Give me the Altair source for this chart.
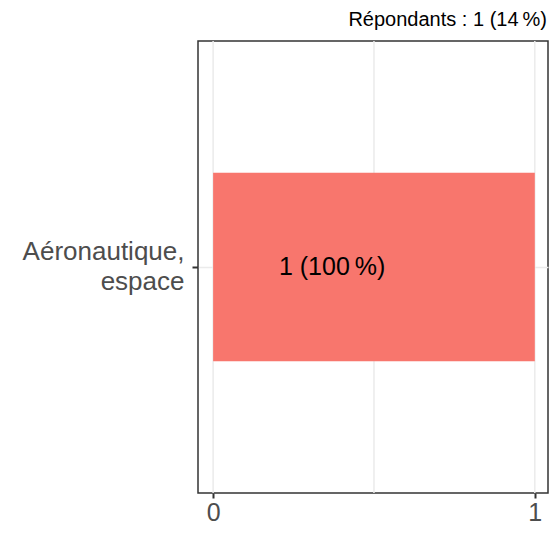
import altair as alt
import pandas as pd

categories = ["Aéronautique,\nespace"]
counts = [1]
percents = [100]
bar_labels = ["1 (100\u202f%)"]
label_pos = [0.37]
grid_values = [0, 0.5, 1]
x_ticks = [0, 1]
caption = "Répondants : 1 (14\u202f%)"

FONT = "Liberation Sans, Arial, Helvetica, sans-serif"

bars_df = pd.DataFrame({"cat": categories, "n": counts, "pct": percents,
                        "lab": bar_labels, "lx": label_pos})
grid_df = pd.DataFrame({"g": grid_values})
cap_df = pd.DataFrame({"t": [caption]})

W, H = 350, 452
xscale = alt.Scale(domain=[-0.047, 1.041], nice=False, zero=False)
yscale = alt.Scale(paddingInner=0.5, paddingOuter=0.35)

xaxis = alt.Axis(values=x_ticks, format="d", labelFontSize=25,
                 labelColor="#4D4D4D", labelFont=FONT, labelPadding=2,
                 tickSize=5, tickColor="#333333", tickWidth=2,
                 domain=False, grid=False, title=None)
yaxis = alt.Axis(labelExpr="split(datum.label, '\\n')",
                 labelFontSize=26, labelColor="#4D4D4D", labelFont=FONT,
                 labelLineHeight=30, labelPadding=8, labelAlign="right",
                 labelOffset=-15,
                 tickSize=6, tickColor="#333333", tickWidth=2,
                 domain=False, grid=True, gridColor="#EBEBEB", gridWidth=1.5,
                 title=None)

grid = alt.Chart(grid_df).mark_rule(color="#EBEBEB", strokeWidth=1.5).encode(
    x=alt.X("g:Q", scale=xscale, axis=xaxis)
)

bars = alt.Chart(bars_df).mark_bar(color="#F8766D").encode(
    y=alt.Y("cat:N", scale=yscale, axis=yaxis),
    x=alt.X("n:Q", scale=xscale, axis=xaxis),
)

text = alt.Chart(bars_df).mark_text(fontSize=25, font=FONT, color="black").encode(
    y=alt.Y("cat:N", scale=yscale, axis=yaxis),
    x=alt.X("lx:Q", scale=xscale, axis=xaxis),
    text="lab:N",
)

cap = alt.Chart(cap_df).mark_text(fontSize=20, font=FONT, color="black",
                                  align="right", baseline="alphabetic").encode(
    x=alt.value(W - 1), y=alt.value(-15), text="t:N"
)

chart = alt.layer(grid, bars, text, cap).properties(
    width=W, height=H,
    autosize=alt.AutoSizeParams(type="none"),
    padding={"left": 190, "top": 33, "right": 1, "bottom": 32},
).configure_view(stroke="#333333", strokeWidth=1.5).configure_axis(
    tickColor="#333333", tickOpacity=1
)

chart.save("out.html", embed_options={"renderer": "svg", "actions": False})
